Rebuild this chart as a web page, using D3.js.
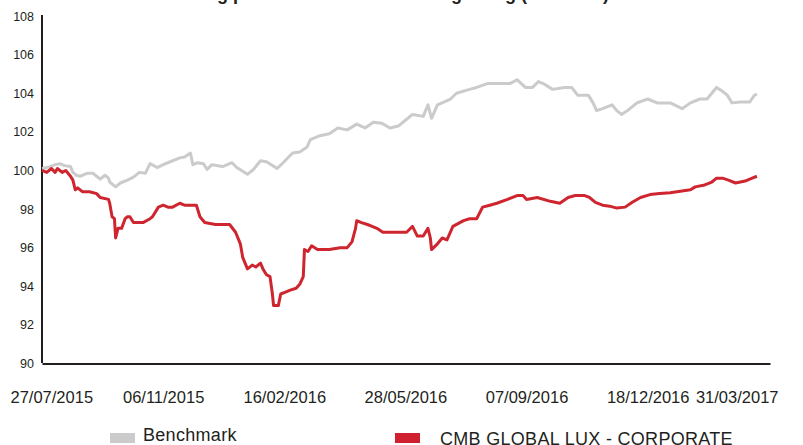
<!DOCTYPE html>
<meta charset="utf-8">
<style>
body { margin: 0; background: #fff; }
svg { display: block; }
svg text { font-family: "Liberation Sans", Arial, sans-serif; fill: #231f20; }
.axis path { stroke: #231f20; stroke-width: 2; }
</style>
<body>
<script src="https://d3js.org/d3.v7.min.js"></script>
<script>

// benchmark series (base 100)
var benchDates = ["2015-07-27","2015-07-31","2015-08-03","2015-08-07","2015-08-11","2015-08-15","2015-08-20","2015-08-22","2015-08-25","2015-08-28",
  "2015-09-03","2015-09-08","2015-09-11","2015-09-14","2015-09-18","2015-09-21","2015-09-22","2015-09-27","2015-10-01","2015-10-07",
  "2015-10-12","2015-10-17","2015-10-22","2015-10-26","2015-11-01","2015-11-06","2015-11-12","2015-11-20","2015-11-24","2015-11-29",
  "2015-12-01","2015-12-05","2015-12-10","2015-12-13","2015-12-17","2015-12-26","2016-01-03","2016-01-07","2016-01-16","2016-01-21",
  "2016-01-27","2016-02-01","2016-02-10","2016-02-15","2016-02-23","2016-02-29","2016-03-06","2016-03-09","2016-03-17","2016-03-25",
  "2016-04-01","2016-04-09","2016-04-17","2016-04-24","2016-05-01","2016-05-08","2016-05-15","2016-05-22","2016-05-28","2016-06-03",
  "2016-06-12","2016-06-16","2016-06-19","2016-06-24","2016-07-05","2016-07-10","2016-07-21","2016-07-27","2016-08-05","2016-08-18",
  "2016-08-24","2016-08-30","2016-09-06","2016-09-12","2016-09-17","2016-09-21","2016-09-29","2016-10-09","2016-10-15","2016-10-20",
  "2016-10-29","2016-11-02","2016-11-05","2016-11-10","2016-11-18","2016-11-22","2016-11-26","2016-12-01","2016-12-09","2016-12-18",
  "2016-12-26","2017-01-06","2017-01-16","2017-01-23","2017-01-31","2017-02-06","2017-02-14","2017-02-19","2017-02-23","2017-02-27",
  "2017-03-06","2017-03-14","2017-03-18","2017-03-20"];
var benchValues = [100.1,100.15,100.2,100.3,100.35,100.25,100.2,99.9,99.75,99.7,
  99.85,99.85,99.7,99.55,99.75,99.6,99.4,99.15,99.35,99.5,
  99.65,99.9,99.85,100.35,100.15,100.3,100.45,100.65,100.7,100.9,
  100.3,100.4,100.35,100.05,100.3,100.2,100.4,100.15,99.8,100.05,
  100.5,100.45,100.1,100.4,100.9,100.95,101.2,101.6,101.8,101.9,
  102.2,102.1,102.4,102.2,102.5,102.45,102.2,102.3,102.6,102.9,
  102.8,103.4,102.7,103.4,103.7,104.0,104.2,104.3,104.5,104.5,
  104.5,104.7,104.3,104.3,104.6,104.5,104.2,104.3,104.3,103.9,
  103.9,103.5,103.1,103.2,103.4,103.1,102.9,103.1,103.5,103.7,
  103.5,103.5,103.2,103.5,103.7,103.7,104.3,104.1,103.9,103.5,
  103.55,103.55,103.9,103.95];

// fund series (base 100)
var fundDates = ["2015-07-27","2015-07-31","2015-08-04","2015-08-07","2015-08-09","2015-08-13","2015-08-16","2015-08-20","2015-08-22","2015-08-24",
  "2015-08-26","2015-08-30","2015-09-05","2015-09-11","2015-09-14","2015-09-21","2015-09-22","2015-09-24","2015-09-26","2015-09-27",
  "2015-09-29","2015-10-02","2015-10-05","2015-10-07","2015-10-09","2015-10-12","2015-10-20","2015-10-26","2015-10-28","2015-11-02",
  "2015-11-06","2015-11-10","2015-11-14","2015-11-20","2015-11-24","2015-11-29","2015-12-04","2015-12-07","2015-12-11","2015-12-20",
  "2016-01-01","2016-01-06","2016-01-10","2016-01-12","2016-01-16","2016-01-20","2016-01-23","2016-01-27","2016-01-29","2016-02-01",
  "2016-02-04","2016-02-06","2016-02-07","2016-02-11","2016-02-13","2016-02-17","2016-02-21","2016-02-26","2016-02-29","2016-03-03",
  "2016-03-04","2016-03-07","2016-03-10","2016-03-15","2016-03-25","2016-04-03","2016-04-09","2016-04-13","2016-04-16","2016-04-17",
  "2016-04-21","2016-04-26","2016-04-30","2016-05-04","2016-05-09","2016-05-19","2016-05-29","2016-06-03","2016-06-07","2016-06-12",
  "2016-06-16","2016-06-18","2016-06-19","2016-06-24","2016-06-28","2016-07-02","2016-07-07","2016-07-16","2016-07-21","2016-07-27",
  "2016-08-01","2016-08-07","2016-08-13","2016-08-22","2016-08-30","2016-09-04","2016-09-07","2016-09-16","2016-09-27","2016-10-05",
  "2016-10-12","2016-10-18","2016-10-26","2016-10-30","2016-11-04","2016-11-10","2016-11-16","2016-11-22","2016-11-29","2016-12-05",
  "2016-12-12","2016-12-20","2016-12-28","2017-01-06","2017-01-23","2017-01-27","2017-02-04","2017-02-10","2017-02-14","2017-02-19",
  "2017-02-24","2017-03-02","2017-03-10","2017-03-16","2017-03-20"];
var fundValues = [100.0,99.9,100.1,99.9,100.1,99.9,100.0,99.7,99.5,99.0,
  99.1,98.9,98.9,98.8,98.6,98.5,98.3,97.6,97.5,96.5,
  97.0,97.0,97.5,97.6,97.6,97.3,97.3,97.5,97.6,98.1,
  98.2,98.1,98.1,98.3,98.2,98.2,98.2,97.6,97.3,97.2,
  97.2,96.8,96.2,95.5,94.9,95.1,95.0,95.2,94.9,94.6,
  94.5,93.6,93.0,93.0,93.6,93.7,93.8,93.9,94.1,94.5,
  95.9,95.8,96.1,95.9,95.9,96.0,96.0,96.3,97.0,97.4,
  97.3,97.2,97.1,97.0,96.8,96.8,96.8,97.1,96.6,96.6,
  97.0,96.5,95.9,96.2,96.5,96.4,97.1,97.4,97.5,97.5,
  98.1,98.2,98.3,98.5,98.7,98.7,98.5,98.6,98.4,98.3,
  98.6,98.7,98.7,98.6,98.35,98.2,98.15,98.05,98.1,98.35,
  98.6,98.75,98.8,98.85,99.0,99.15,99.25,99.4,99.6,99.6,
  99.5,99.35,99.45,99.6,99.7];

var tickLabels = ["27/07/2015", "06/11/2015", "16/02/2016", "28/05/2016", "07/09/2016", "18/12/2016", "31/03/2017"];
var yTicks = [90, 92, 94, 96, 98, 100, 102, 104, 106, 108];
var seriesNames = ["Benchmark", "CMB GLOBAL LUX - CORPORATE"];
var title = "Rolling performance since the beginning (base 100)";

var width = 803, height = 445;
var colors = {bench: "#cbcbcb", fund: "#cf252f", fundKey: "#d0202f"};

var parseDate = d3.timeParse("%Y-%m-%d"),
    parseTick = d3.timeParse("%d/%m/%Y");

var svg = d3.select("body").append("svg")
    .attr("width", width)
    .attr("height", height);

// scales
var x = d3.scaleTime()
    .domain([parseTick(tickLabels[0]), parseTick(tickLabels[tickLabels.length - 1])])
    .range([42, 770]);
var y = d3.scaleLinear()
    .domain([90, 108])
    .range([363.5, 16]);

// title, cut by the top edge (only descenders show)
svg.append("text")
    .attr("x", 167)
    .attr("y", -0.5)
    .style("font-size", "18px")
    .style("font-weight", "bold")
    .text(title);

// y axis
var yAxis = svg.append("g")
    .attr("class", "axis")
    .attr("transform", "translate(42,0)")
    .call(d3.axisLeft(y).tickValues(yTicks).tickSize(0).tickPadding(8));
yAxis.select(".domain").attr("d", "M0," + (y(90) - 0.5) + "V" + (y(108) - 1));
yAxis.selectAll("text").style("font-size", "12.5px");

// x axis
var xAxis = svg.append("g")
    .attr("class", "axis")
    .attr("transform", "translate(0," + y(90) + ")")
    .call(d3.axisBottom(x)
        .tickValues(tickLabels.map(parseTick))
        .tickSize(0)
        .tickPadding(28)
        .tickFormat(d3.timeFormat("%d/%m/%Y")));
xAxis.selectAll("text").style("font-size", "16.5px");

// keep the end labels inside the picture
xAxis.selectAll(".tick").each(function(d) {
    var t = d3.select(this).select("text");
    var w = t.node().getComputedTextLength();
    var cx = x(d), shift = 0;
    if (cx - w / 2 < 10) shift = 10 - (cx - w / 2);
    if (cx + w / 2 > 778) shift = 778 - (cx + w / 2);
    t.attr("x", shift);
});

// lines
var line = d3.line()
    .x(function(d) { return x(d.date); })
    .y(function(d) { return y(d.value); });

var benchData = benchDates.map(function(d, i) { return {date: parseDate(d), value: benchValues[i]}; });
var fundData = fundDates.map(function(d, i) { return {date: parseDate(d), value: fundValues[i]}; });

svg.append("path")
    .datum(benchData)
    .attr("fill", "none")
    .attr("stroke", colors.bench)
    .attr("stroke-width", 3)
    .attr("stroke-linejoin", "round")
    .attr("d", line);

svg.append("path")
    .datum(fundData)
    .attr("fill", "none")
    .attr("stroke", colors.fund)
    .attr("stroke-width", 3)
    .attr("stroke-linejoin", "round")
    .attr("d", line);

// legend
var legend = [
    {name: seriesNames[0], color: colors.bench, x: 110, ty: 441},
    {name: seriesNames[1], color: colors.fundKey, x: 395, ty: 445}
];
legend.forEach(function(l) {
    svg.append("rect")
        .attr("x", l.x).attr("y", 433)
        .attr("width", 25).attr("height", 10)
        .attr("fill", l.color);
    svg.append("text")
        .attr("x", l.x + (l.x > 300 ? 45 : 33))
        .attr("y", l.ty)
        .style("font-size", "18px")
        .style("letter-spacing", "0.3px")
        .text(l.name);
});

</script>
</body>
